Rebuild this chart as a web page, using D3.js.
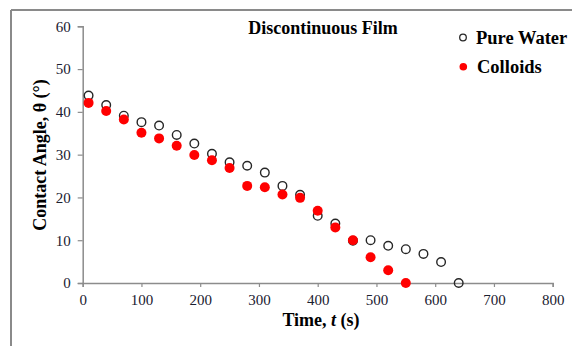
<!DOCTYPE html>
<html>
<head>
<meta charset="utf-8">
<script src="https://cdn.jsdelivr.net/npm/d3@7"></script>
<style>
  html, body { margin: 0; padding: 0; background: #fff; }
  svg { display: block; }
  svg text { font-family: "Liberation Serif", "Times New Roman", serif; }
</style>
</head>
<body>
<svg id="chart" width="572" height="346"></svg>
<script>
// Contact angle over time for a discontinuous film
const pureWaterTime = [10, 40, 70, 100, 130, 160, 190, 220, 250, 280, 310, 340, 370, 400, 430, 460, 490, 520, 550, 580, 610, 640];
const pureWaterAngle = [43.8, 41.6, 39.1, 37.6, 36.8, 34.6, 32.6, 30.2, 28.2, 27.4, 25.8, 22.7, 20.6, 15.7, 13.9, 9.9, 10.0, 8.7, 7.9, 6.8, 4.9, 0];
const colloidsTime = [10, 40, 70, 100, 130, 160, 190, 220, 250, 280, 310, 340, 370, 400, 430, 460, 490, 520, 550];
const colloidsAngle = [42.1, 40.2, 38.2, 35.1, 33.8, 32.1, 29.9, 28.7, 26.9, 22.7, 22.4, 20.7, 19.9, 16.9, 13.0, 10.0, 6.0, 3.0, 0];
const xTicks = [0, 100, 200, 300, 400, 500, 600, 700, 800];
const yTicks = [0, 10, 20, 30, 40, 50, 60];
const seriesNames = ["Pure Water", "Colloids"];
const chartTitle = "Discontinuous Film";

const serif = "'Liberation Serif', 'Times New Roman', serif";
const svg = d3.select("#chart");
const axisColor = "#8c8c8c";
const labelColor = "#1a2030";

// outer frame (top and left edges visible)
svg.append("line").attr("x1", 11).attr("x2", 572).attr("y1", 10).attr("y2", 10)
  .attr("stroke", "#8a8a8a").attr("stroke-width", 2);
svg.append("line").attr("x1", 11).attr("x2", 11).attr("y1", 10).attr("y2", 346)
  .attr("stroke", "#8a8a8a").attr("stroke-width", 2);

const x = d3.scaleLinear().domain([0, 800]).range([82.7, 552.7]);
const y = d3.scaleLinear().domain([0, 60]).range([283, 26.3]);

// x axis
const xAxis = svg.append("g").attr("transform", `translate(0,${y(0)})`)
  .call(d3.axisBottom(x).tickValues(xTicks).tickSize(4).tickPadding(7).tickFormat(d3.format("d")));
// y axis
const yAxis = svg.append("g").attr("transform", `translate(${x(0)},0)`)
  .call(d3.axisLeft(y).tickValues(yTicks).tickSize(5).tickPadding(7).tickFormat(d3.format("d")));

[xAxis, yAxis].forEach(g => {
  g.attr("font-family", serif).attr("font-size", 15);
  g.select(".domain").attr("stroke", axisColor).attr("stroke-width", 1.5);
  g.selectAll(".tick line").attr("stroke", axisColor).attr("stroke-width", 1.2);
  g.selectAll(".tick text").attr("fill", labelColor)
    .style("font-family", serif).style("font-size", "15px");
});

// series: pure water (open circles) drawn beneath colloids (filled red)
const pw = pureWaterTime.map((t, i) => ({ t, a: pureWaterAngle[i] }));
const co = colloidsTime.map((t, i) => ({ t, a: colloidsAngle[i] }));

svg.append("g").selectAll("circle").data(pw).join("circle")
  .attr("cx", d => x(d.t)).attr("cy", d => y(d.a)).attr("r", 4.3)
  .attr("fill", "none").attr("stroke", "#262626").attr("stroke-width", 1.4);

svg.append("g").selectAll("circle").data(co).join("circle")
  .attr("cx", d => x(d.t)).attr("cy", d => y(d.a)).attr("r", 5)
  .attr("fill", "#ff0000");

// title
svg.append("text").attr("x", 323).attr("y", 34).attr("text-anchor", "middle")
  .style("font-family", serif).style("font-weight", "bold").style("font-size", "18px").attr("fill", "#000")
  .text(chartTitle);

// legend
const legend = svg.append("g");
legend.append("circle").attr("cx", 463).attr("cy", 37.5).attr("r", 3.3)
  .attr("fill", "none").attr("stroke", "#262626").attr("stroke-width", 1.3);
legend.append("text").attr("x", 476).attr("y", 44)
  .style("font-family", serif).style("font-weight", "bold").style("font-size", "18.5px").attr("fill", "#000")
  .text(seriesNames[0]);
legend.append("circle").attr("cx", 463.3).attr("cy", 66.7).attr("r", 3.8)
  .attr("fill", "#ff0000");
legend.append("text").attr("x", 477).attr("y", 73)
  .style("font-family", serif).style("font-weight", "bold").style("font-size", "18.5px").attr("fill", "#000")
  .text(seriesNames[1]);

// axis titles
svg.append("text")
  .attr("transform", "translate(46,155) rotate(-90)")
  .attr("text-anchor", "middle")
  .style("font-family", serif).style("font-weight", "bold").style("font-size", "18px").attr("fill", "#000")
  .text("Contact Angle, \u03b8 (\u00b0)");

const xTitle = svg.append("text").attr("x", 321).attr("y", 326)
  .attr("text-anchor", "middle")
  .style("font-family", serif).style("font-weight", "bold").style("font-size", "18px").attr("fill", "#000");
xTitle.append("tspan").text("Time, ");
xTitle.append("tspan").style("font-style", "italic").text("t");
xTitle.append("tspan").text(" (s)");
</script>
</body>
</html>
